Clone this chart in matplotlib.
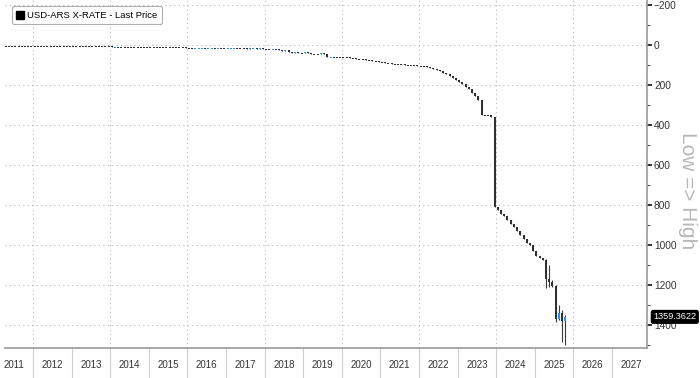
import numpy as np
import matplotlib.pyplot as plt
from matplotlib.patches import Patch
from matplotlib.ticker import MultipleLocator, FixedLocator

plt.rcParams['font.family'] = ['Liberation Sans', 'DejaVu Sans']

# Monthly closes of USD-ARS, series starts in April 2011
first_year, first_month = 2011, 4
first_open = 4.05
close_2011 = [4.08, 4.09, 4.11, 4.14, 4.20, 4.21, 4.24, 4.28, 4.30]
close_2012 = [4.35, 4.36, 4.38, 4.42, 4.47, 4.52, 4.58, 4.64, 4.70, 4.76, 4.83, 4.92]
close_2013 = [4.98, 5.04, 5.12, 5.18, 5.28, 5.39, 5.51, 5.68, 5.79, 5.91, 6.13, 6.52]
close_2014 = [8.02, 7.88, 8.00, 8.00, 8.08, 8.13, 8.16, 8.40, 8.43, 8.50, 8.53, 8.55]
close_2015 = [8.64, 8.73, 8.82, 8.90, 8.99, 9.09, 9.23, 9.36, 9.42, 9.51, 9.71, 12.94]
close_2016 = [13.99, 15.72, 14.68, 14.21, 13.96, 15.03, 14.95, 14.85, 15.26, 15.17, 15.83, 15.89]
close_2017 = [15.87, 15.53, 15.38, 15.41, 16.10, 16.60, 17.67, 17.35, 17.31, 17.59, 17.35, 18.60]
close_2018 = [19.65, 20.15, 20.14, 20.54, 24.92, 28.85, 27.31, 36.90, 41.25, 35.91, 37.63, 37.70]
close_2019 = [37.04, 39.05, 43.35, 44.33, 44.75, 42.45, 43.88, 59.48, 57.58, 59.73, 59.88, 59.89]
close_2020 = [60.33, 62.21, 64.47, 66.84, 68.54, 70.46, 72.32, 74.18, 76.18, 78.33, 81.38, 84.07]
close_2021 = [87.31, 89.83, 92.00, 93.64, 94.73, 95.72, 96.71, 97.72, 98.74, 99.67, 100.92, 102.72]
close_2022 = [104.94, 107.13, 110.95, 115.50, 119.71, 125.23, 131.11, 138.71, 147.31, 156.91, 167.23, 177.13]
close_2023 = [186.87, 197.26, 208.96, 222.18, 239.88, 256.70, 276.00, 349.98, 350.00, 350.00, 359.34, 808.48]
close_2024 = [826.25, 844.99, 857.42, 876.50, 893.00, 912.00, 932.00, 951.00, 970.50, 990.50, 1001.00, 1032.00]
close_2025 = [1053.50, 1064.50, 1073.00, 1167.50, 1184.00, 1205.00, 1372.00, 1338.00, 1380.00, 1359.3622]

# intramonth extremes for the last months of 2025 (Apr..Oct)
high_2025 = {4: 1215, 5: 1210, 6: 1210, 7: 1385, 8: 1375, 9: 1485, 10: 1500}
low_2025 = {4: 1070, 5: 1100, 6: 1175, 7: 1200, 8: 1300, 9: 1325, 10: 1350}

last_price = 1359.3622
year_labels = list(range(2011, 2028))
y_ticks = list(range(-200, 1401, 200))

closes = (close_2011 + close_2012 + close_2013 + close_2014 + close_2015 + close_2016
          + close_2017 + close_2018 + close_2019 + close_2020 + close_2021 + close_2022
          + close_2023 + close_2024 + close_2025)
closes = np.array(closes)
opens = np.concatenate([[first_open], closes[:-1]])
idx = np.arange(len(closes)) + (first_month - 1)
years = first_year + idx // 12
months = idx % 12 + 1
xpos = years + (months - 0.5) / 12

highs = np.maximum(opens, closes)
lows = np.minimum(opens, closes)
for i in range(len(closes)):
    if years[i] == 2025 and months[i] in high_2025:
        highs[i] = high_2025[months[i]]
        lows[i] = low_2025[months[i]]

fig = plt.figure(figsize=(7, 3.78), dpi=100)
ax = fig.add_axes([5 / 700, 1 - 348 / 378, 642 / 700, 348 / 378])

down = closes < opens
body_col = np.where(down, '#2f8ff0', '#303030')
ax.vlines(xpos, lows, highs, color='#3a3a3a', lw=0.8, zorder=3)
body_lo = np.minimum(opens, closes)
body_h = np.maximum(np.abs(closes - opens), 5)
ax.bar(xpos, body_h, bottom=body_lo, width=0.62 / 12, color=body_col,
       linewidth=0, zorder=4)

ax.set_xlim(2011.275, 2027.907)
ax.set_ylim(1515, -225)

# grid
for yv in y_ticks:
    ax.axhline(yv, color='#b8b8b8', lw=0.8, ls=(0, (1, 3)), zorder=1)
for yr in range(2012, 2027, 2):
    ax.axvline(yr, color='#b8b8b8', lw=0.8, ls=(0, (1, 3)), zorder=1)

# x axis: year labels centred, separators at year boundaries
ax.xaxis.set_major_locator(FixedLocator([y + 0.5 for y in year_labels]))
ax.set_xticklabels([str(y) for y in year_labels])
ax.xaxis.set_minor_locator(FixedLocator(list(range(2012, 2028))))
ax.tick_params(axis='x', which='major', length=0, pad=9, labelsize=7, labelcolor='#333333')
ax.tick_params(axis='x', which='minor', length=22, width=0.8, color='#cfcfcf', direction='out')

# y axis on the right
ax.yaxis.tick_right()
ax.set_yticks(y_ticks)
ax.yaxis.set_minor_locator(MultipleLocator(100))
ax.tick_params(axis='y', which='major', length=3.5, width=1.4, color='#333333',
               labelsize=7.3, labelcolor='#333333', pad=1.5)
ax.tick_params(axis='y', which='minor', length=2, width=0.8, color='#555555')

for s in ['top', 'left']:
    ax.spines[s].set_visible(False)
ax.spines['right'].set_color('#9a9a9a')
ax.spines['bottom'].set_color('#9a9a9a')
ax.spines['right'].set_linewidth(1.2)
ax.spines['bottom'].set_linewidth(1.2)

fig.text(687 / 700, 1 - 191 / 378, 'Low => High', rotation=-90, ha='center', va='center',
         fontsize=15, color='#b8b8b8')

# last price tag
ax.annotate(f'{last_price:.4f}', xy=(1.0, last_price), xycoords=('axes fraction', 'data'),
            xytext=(4.5, 0), textcoords='offset points', ha='left', va='center',
            fontsize=6.6, color='white', zorder=10, annotation_clip=False,
            bbox=dict(boxstyle='round,pad=0.2,rounding_size=0.2', fc='black', ec='black'))

leg = ax.legend(handles=[Patch(facecolor='black', edgecolor='black',
                               label='USD-ARS X-RATE - Last Price')],
                loc='upper left', bbox_to_anchor=(0.003, 0.995), fontsize=6.8,
                handlelength=0.9, handleheight=0.9, handletextpad=0.3,
                borderpad=0.45, frameon=True, fancybox=True)
leg.get_frame().set_edgecolor('#9a9a9a')
leg.get_frame().set_linewidth(0.8)

fig.savefig('out.png', dpi=100)
